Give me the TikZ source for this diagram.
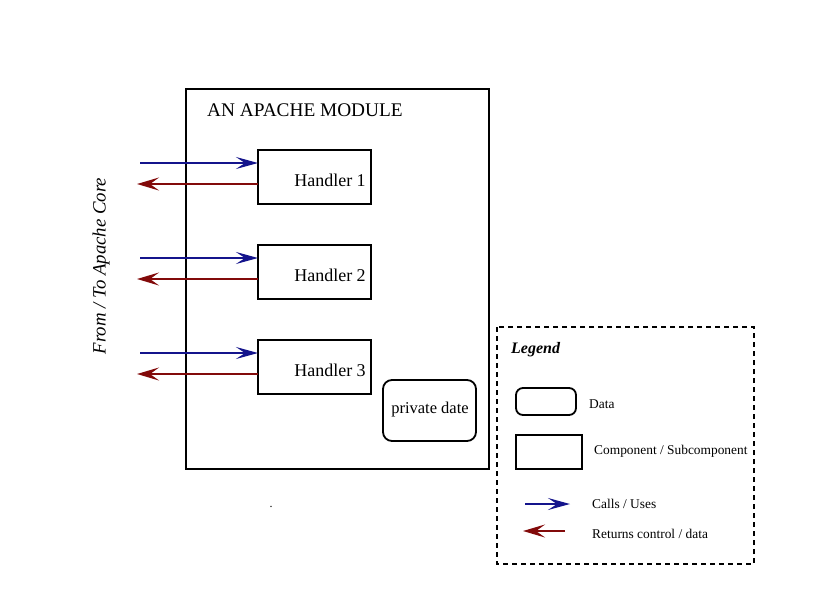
\documentclass[tikz,border=0pt]{standalone}
\usepackage{fontspec}
\setmainfont{Liberation Serif}
\usetikzlibrary{arrows.meta}
\definecolor{callblue}{RGB}{20,20,140}
\definecolor{retred}{RGB}{130,10,10}
\tikzset{
  comp/.style={draw=black, line width=1.8pt, inner sep=0pt},
  datab/.style={draw=black, line width=1.8pt, rounded corners=9pt, inner sep=0pt},
  callarrow/.style={draw=callblue, line width=1.5pt, -{Stealth[length=22pt,width=12pt,inset=9pt]}},
  retarrow/.style={draw=retred, line width=2.4pt, -{Stealth[length=22pt,width=13pt,inset=9pt]}},
  lbl/.style={font=\fontsize{18}{20}\selectfont, inner sep=0pt},
  leg/.style={font=\fontsize{13.4}{15}\selectfont, inner sep=0pt, anchor=west},
}
\begin{document}
\begin{tikzpicture}[x=1pt,y=-1pt]
\useasboundingbox (0,0) rectangle (835,614);
% module box
\draw[comp] (186,89) rectangle (489,469);
\node[anchor=west, inner sep=0pt, font=\fontsize{19.3}{21}\selectfont] (title) at (207,110) {AN APACHE MODULE};
% handlers
\foreach \i/\y in {1/150,2/245,3/340}{
  \draw[comp] (258,\y) rectangle (371,\y+54);
  \coordinate (h\i in) at (258,\y+13);
  \coordinate (h\i out) at (258,\y+34);
  \coordinate (s\i in) at (140,\y+13);
  \coordinate (s\i out) at (137,\y+34);
  \node[lbl] (h\i) at (330,\y+30) {Handler \i};
  \draw[callarrow] (s\i in) -- (h\i in);
  \draw[retarrow] (h\i out) -- (s\i out);
}
% private data
\node[datab, minimum width=93pt, minimum height=61pt] (pd) at (429.5,410.5) {};
\node[inner sep=0pt, font=\fontsize{16.5}{18}\selectfont] (pdt) at (430,410) {private date};
% side label
\node[rotate=90, inner sep=0pt, font=\itshape\fontsize{18.8}{20}\selectfont] (core) at (101,266) {From / To Apache Core};
% stray dot
\node[inner sep=0pt, font=\fontsize{12}{12}\selectfont] (dot) at (271,507) {.};
% legend
\draw[line width=1.1pt, dash pattern=on 5pt off 4pt] (497,327) rectangle (754,564);
\node[anchor=west, inner sep=0pt, font=\bfseries\itshape\fontsize{16}{18}\selectfont] (legt) at (511,350) {Legend};
\node[datab, rounded corners=7pt, minimum width=60pt, minimum height=27pt] (ld) at (546,401.5) {};
\node[leg] (ldt) at (589,404) {Data};
\draw[comp] (516,435) rectangle (582,469);
\node[leg] (lct) at (594,451) {Component / Subcomponent};
\coordinate (lc1) at (525,504);
\coordinate (lc2) at (570,504);
\draw[callarrow] (lc1) -- (lc2);
\node[leg] (lcall) at (592,504) {Calls / Uses};
\coordinate (lr1) at (565,531);
\coordinate (lr2) at (523,531);
\draw[retarrow] (lr1) -- (lr2);
\node[leg] (lret) at (592,534) {Returns control / data};
\end{tikzpicture}
\end{document}
